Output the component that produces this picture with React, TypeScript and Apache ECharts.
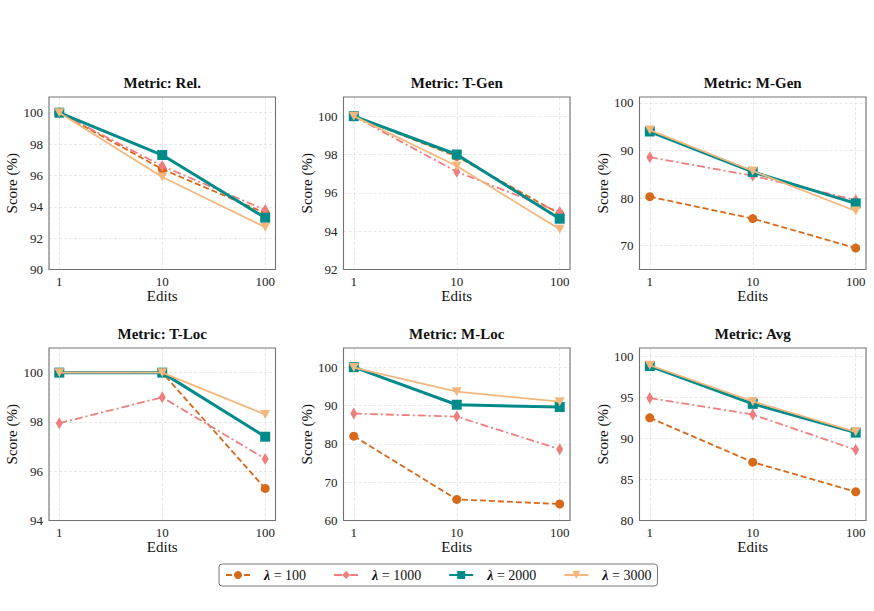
import React, { useEffect, useRef } from "react";
import * as echarts from "echarts";

const edits = [1, 10, 100];
const metricNames = ["Rel.", "T-Gen", "M-Gen", "T-Loc", "M-Loc", "Avg"];
const lambdaLabels = ["100", "1000", "2000", "3000"];

// rows: lambda = 100, 1000, 2000, 3000 ; columns: edits 1, 10, 100
const relScores = [
  [100, 96.4, 93.6],
  [100, 96.6, 93.8],
  [100, 97.3, 93.3],
  [100, 95.9, 92.7],
];
const tGenScores = [
  [100, 97.9, 94.9],
  [100, 97.1, 95.0],
  [100, 98.0, 94.65],
  [100, 97.4, 94.1],
];
const mGenScores = [
  [80.3, 75.7, 69.5],
  [88.6, 84.7, 79.6],
  [94.0, 85.5, 78.9],
  [94.3, 85.7, 77.3],
];
const tLocScores = [
  [100, 100, 95.3],
  [97.95, 99.0, 96.5],
  [100, 100, 97.4],
  [100, 100, 98.3],
];
const mLocScores = [
  [82.0, 65.5, 64.3],
  [87.9, 87.1, 78.6],
  [100, 90.2, 89.6],
  [99.9, 93.6, 91.0],
];
const avgScores = [
  [92.5, 87.1, 83.5],
  [94.9, 92.9, 88.6],
  [98.8, 94.2, 90.7],
  [98.9, 94.5, 90.8],
];
const allScores = [relScores, tGenScores, mGenScores, tLocScores, mLocScores, avgScores];

const yMins = [90, 92, 65, 94, 60, 80];
const yMaxs = [101, 101, 101.25, 101, 105, 101];
const yTicks = [
  [90, 92, 94, 96, 98, 100],
  [92, 94, 96, 98, 100],
  [70, 80, 90, 100],
  [94, 96, 98, 100],
  [60, 70, 80, 90, 100],
  [80, 85, 90, 95, 100],
];

const FONT = "'Liberation Serif', 'Times New Roman', serif";
const colors = ["#D7691A", "#EF7F7F", "#008B8B", "#F3B77D"];
const symbols = ["circle", "diamond", "rect", "triangle"];
const symbolSizes: any[] = [9, [7, 12], 10, [10, 9]];
const symbolRotates = [0, 0, 0, 180];
const lineTypes: any[] = [[6, 3], [8, 3, 2, 3], "solid", "solid"];
const lineWidths = [1.8, 1.8, 3, 1.8];

const colLefts = [49, 343.5, 639.5];
const gridWidth = 226.5;
const rowTops = [97, 348];
const gridHeight = 172.5;

export default function App() {
  const ref = useRef<HTMLDivElement>(null);
  useEffect(() => {
    if (!ref.current) return;
    const chart = echarts.init(ref.current, null, { renderer: "svg" });
    const grids: any[] = [];
    const xAxes: any[] = [];
    const yAxes: any[] = [];
    const series: any[] = [];
    const graphics: any[] = [];
    metricNames.forEach((m, i) => {
      const row = Math.floor(i / 3);
      const col = i % 3;
      const left = colLefts[col];
      const top = rowTops[row];
      grids.push({
        left,
        top,
        width: gridWidth,
        height: gridHeight,
        show: false,
      });
      xAxes.push({
        type: "log",
        logBase: 10,
        gridIndex: i,
        min: Math.pow(10, -0.1),
        max: Math.pow(10, 2.1),
        name: "Edits",
        nameLocation: "middle",
        nameGap: 19,
        nameTextStyle: { fontFamily: FONT, fontSize: 15, color: "#111" },
        axisLine: { show: false },
        axisTick: { show: false },
        axisLabel: {
          margin: 5,
          fontFamily: FONT,
          fontSize: 13,
          color: "#222",
          showMinLabel: false,
          showMaxLabel: false,
          formatter: (v: number) => {
            const l = Math.log10(v);
            return Math.abs(l - Math.round(l)) < 1e-6 ? String(Math.round(v)) : "";
          },
        },
        splitLine: { show: true, lineStyle: { color: "#e2e2e2", type: [3, 2], width: 0.8 } },
      });
      yAxes.push({
        type: "value",
        gridIndex: i,
        min: yMins[i],
        max: yMaxs[i],
        name: "Score (%)",
        nameLocation: "middle",
        nameGap: 29,
        nameTextStyle: { fontFamily: FONT, fontSize: 15, color: "#111" },
        axisLine: { show: false },
        axisTick: { show: false, customValues: yTicks[i] },
        axisLabel: {
          margin: 6,
          fontFamily: FONT,
          fontSize: 13,
          color: "#222",
          customValues: yTicks[i],
        },
        splitLine: { show: true, lineStyle: { color: "#e2e2e2", type: [3, 2], width: 0.8 } },
      });
      graphics.push({
        type: "rect",
        z: 100,
        silent: true,
        shape: { x: left, y: top, width: gridWidth, height: gridHeight },
        style: { fill: "none", stroke: "#727272", lineWidth: 1.1 },
      });
      graphics.push({
        type: "text",
        x: left + gridWidth / 2,
        y: top - 14,
        style: {
          text: "Metric: " + m,
          fontFamily: FONT,
          fontSize: 15,
          fontWeight: "bold",
          fill: "#111",
          textAlign: "center",
          textVerticalAlign: "middle",
        },
      });
      allScores[i].forEach((vals, j) => {
        series.push({
          type: "line",
          name: "λ = " + lambdaLabels[j],
          xAxisIndex: i,
          yAxisIndex: i,
          data: edits.map((e, k) => [e, vals[k]]),
          symbol: symbols[j],
          symbolSize: symbolSizes[j],
          symbolRotate: symbolRotates[j],
          showAllSymbol: true,
          clip: false,
          z: 2 + j,
          color: colors[j],
          itemStyle: { color: colors[j], opacity: 1 },
          lineStyle: { color: colors[j], width: lineWidths[j], type: lineTypes[j] },
        });
      });
    });
    chart.setOption({
      animation: false,
      backgroundColor: "#ffffff",
      textStyle: { fontFamily: FONT },
      grid: grids,
      xAxis: xAxes,
      yAxis: yAxes,
      series,
      graphic: graphics,
      legend: {
        data: lambdaLabels.map((l) => "λ = " + l),
        left: 219,
        top: 564,
        orient: "horizontal",
        padding: [4, 6, 4, 6],
        borderColor: "#777",
        borderWidth: 1,
        borderRadius: 3,
        itemGap: 27,
        itemWidth: 24,
        itemHeight: 10,
        formatter: (name: string) => "{l|λ}{t|" + name.slice(1) + "}",
        textStyle: {
          padding: [0, 0, 0, 9],
          rich: {
            l: { fontFamily: FONT, fontSize: 14, fontStyle: "italic", fontWeight: "bold", color: "#111" },
            t: { fontFamily: FONT, fontSize: 14, color: "#111" },
          },
        },
      },
    });
    return () => chart.dispose();
  }, []);
  return (
    <div
      ref={ref}
      style={{ position: "fixed", left: 0, top: 0, width: 874, height: 611, background: "#fff" }}
    />
  );
}
